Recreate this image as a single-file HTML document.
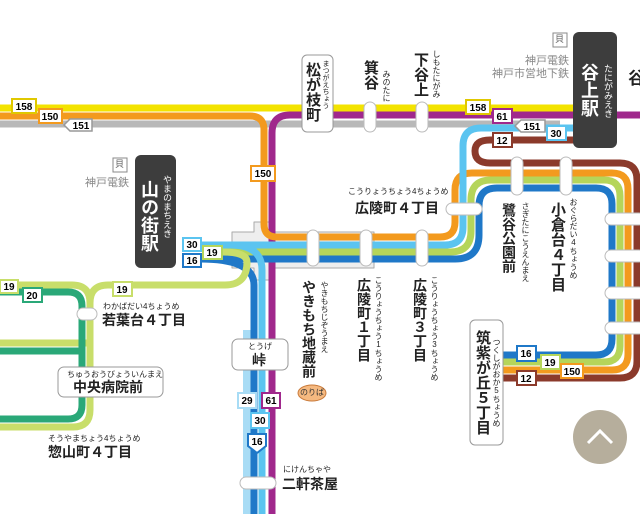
<!DOCTYPE html>
<html><head><meta charset="utf-8"><style>
html,body{margin:0;padding:0;background:#fff;}
#w{position:relative;width:640px;height:514px;overflow:hidden;font-family:"Liberation Sans","Noto Sans CJK JP",sans-serif;color:#222;}
svg{position:absolute;left:0;top:0;}
.t{position:absolute;white-space:nowrap;line-height:1;}
.v{writing-mode:vertical-rl;text-orientation:upright;}
.big{font-size:15px;font-weight:bold;}
.fu{font-size:8px;}
.g{color:#888;font-size:11px;}
</style></head><body><div id="w">
<svg width="640" height="514" viewBox="0 0 640 514">
<g fill="none" stroke-width="7" stroke-linejoin="round">
<path d="M232,232 h22 v-10 h20 v10 h100 v36 h-100 v12 h-20 v-12 h-22 z" fill="#eeeeee" stroke="#aaa" stroke-width="1"/>
<path d="M0,108 H580" stroke="#f3e300"/>
<path d="M0,124 H560" stroke="#b8b8b8"/>
<path d="M640,115 H290 Q272,115 272,133 V514" stroke="#a0288c"/>
<path d="M0,116 H250 Q264,116 264,130 V224 Q264,237 277,237 H440 Q455,237 455,222 V190 Q455,173 472,173 H612 Q628,173 628,189 V354 Q628,370 612,370 H503" stroke="#f39a1e"/>
<path d="M575,140 H490 Q475,140 475,151 Q475,163 490,163 H620 Q637,163 637,180 V361 Q637,378 620,378 H503" stroke="#8b3a2b"/>
<path d="M185,245 H445 Q463,245 463,227 V146 Q463,128 481,128 H575" stroke="#5bc4f0"/>
<path d="M205,252 H450 Q471,252 471,231 V200 Q471,180 491,180 H604 Q620,180 620,196 V346 Q620,362 604,362 H503" stroke="#b5d55a"/>
<path d="M185,259 H455 Q479,259 479,235 V206 Q479,188 497,188 H596 Q612,188 612,204 V339 Q612,355 596,355 H503" stroke="#1f78c8"/>
<path d="M230,245 Q262,245 262,270 V514" stroke="#5bc4f0"/>
<path d="M247,330 V514" stroke="#a8dcf5" stroke-width="8"/>
<path d="M200,259 Q254,259 254,285 V514" stroke="#1f78c8"/>
<path d="M222,252 Q247,252 247,262 Q247,285 225,285 H108 Q90,285 90,303 V410 Q90,427 73,427 H0" stroke="#c8de6a"/>
<path d="M0,285 H72 Q90,285 90,303" stroke="#c8de6a"/>
<path d="M0,343 H90" stroke="#c8de6a"/>
<path d="M0,292 H68 Q82,292 82,306 V405 Q82,419 68,419 H0" stroke="#2aa878"/>
<path d="M0,351 H82" stroke="#2aa878"/>
</g>
<g fill="#fff" stroke="#bbb" stroke-width="1">
<rect x="364" y="102" width="12" height="30" rx="6"/>
<rect x="416" y="102" width="12" height="30" rx="6"/>
<rect x="307" y="230" width="12" height="36" rx="6"/>
<rect x="360" y="230" width="12" height="36" rx="6"/>
<rect x="416" y="230" width="12" height="36" rx="6"/>
<rect x="511" y="157" width="12" height="38" rx="6"/>
<rect x="560" y="157" width="12" height="38" rx="6"/>
<rect x="446" y="203" width="36" height="12" rx="6"/>
<rect x="605" y="213" width="40" height="12" rx="6"/>
<rect x="605" y="250" width="40" height="12" rx="6"/>
<rect x="605" y="287" width="40" height="12" rx="6"/>
<rect x="605" y="322" width="40" height="12" rx="6"/>
<rect x="77" y="308" width="20" height="12" rx="6"/>
<rect x="240" y="477" width="36" height="12" rx="6"/>
</g>
<g font-size="10" font-weight="bold" text-anchor="middle" font-family="Liberation Sans,sans-serif">
<rect x="12" y="99" width="24" height="14" fill="#fff" stroke="#e0c800" stroke-width="2"/><text x="24" y="110">158</text>
<rect x="39" y="109" width="23" height="14" fill="#fff" stroke="#f39a1e" stroke-width="2"/><text x="50" y="120">150</text>
<path d="M64,125 L70,119 H92 V131 H70 Z" fill="#fff" stroke="#999" stroke-width="1.5"/><text x="81" y="129">151</text>
<rect x="251" y="166" width="24" height="15" fill="#fff" stroke="#f39a1e" stroke-width="2"/><text x="263" y="177">150</text>
<rect x="466" y="100" width="24" height="14" fill="#fff" stroke="#e0c800" stroke-width="2"/><text x="478" y="111">158</text>
<rect x="493" y="109" width="19" height="14" fill="#fff" stroke="#a0288c" stroke-width="2"/><text x="502" y="120">61</text>
<path d="M515,126 L521,120 H545 V132 H521 Z" fill="#fff" stroke="#999" stroke-width="1.5"/><text x="532" y="130">151</text>
<rect x="547" y="126" width="19" height="14" fill="#fff" stroke="#5bc4f0" stroke-width="2"/><text x="556" y="137">30</text>
<rect x="493" y="133" width="19" height="14" fill="#fff" stroke="#8b3a2b" stroke-width="2"/><text x="502" y="144">12</text>
<rect x="183" y="238" width="18" height="13" fill="#fff" stroke="#5bc4f0" stroke-width="2"/><text x="192" y="248">30</text>
<rect x="183" y="254" width="18" height="13" fill="#fff" stroke="#1f78c8" stroke-width="2"/><text x="192" y="264">16</text>
<rect x="203" y="246" width="19" height="13" fill="#fff" stroke="#b5d55a" stroke-width="2"/><text x="212" y="256">19</text>
<rect x="0" y="280" width="18" height="13" fill="#fff" stroke="#c8de6a" stroke-width="2"/><text x="9" y="290">19</text>
<rect x="23" y="288" width="19" height="14" fill="#fff" stroke="#2aa878" stroke-width="2"/><text x="32" y="299">20</text>
<rect x="113" y="282" width="19" height="14" fill="#fff" stroke="#c8de6a" stroke-width="2"/><text x="122" y="293">19</text>
<rect x="238" y="393" width="18" height="15" fill="#fff" stroke="#a8dcf5" stroke-width="2"/><text x="247" y="404">29</text>
<rect x="262" y="393" width="18" height="15" fill="#fff" stroke="#a0288c" stroke-width="2"/><text x="271" y="404">61</text>
<rect x="251" y="413" width="18" height="15" fill="#fff" stroke="#5bc4f0" stroke-width="2"/><text x="260" y="424">30</text>
<path d="M248,434 H266 V446 L257,453 L248,446 Z" fill="#fff" stroke="#1f78c8" stroke-width="2"/><text x="257" y="445">16</text>
<rect x="517" y="346" width="19" height="15" fill="#fff" stroke="#1f78c8" stroke-width="2"/><text x="526" y="357">16</text>
<rect x="541" y="355" width="19" height="14" fill="#fff" stroke="#b5d55a" stroke-width="2"/><text x="550" y="366">19</text>
<rect x="561" y="364" width="22" height="14" fill="#fff" stroke="#f39a1e" stroke-width="2"/><text x="572" y="375">150</text>
<rect x="517" y="371" width="19" height="14" fill="#fff" stroke="#8b3a2b" stroke-width="2"/><text x="526" y="382">12</text>
</g>
<rect x="302" y="55" width="31" height="77" rx="5" fill="#fff" stroke="#999"/>
<rect x="573" y="32" width="44" height="116" rx="6" fill="#3d3d3d"/>
<rect x="135" y="155" width="41" height="113" rx="6" fill="#3d3d3d"/>
<rect x="470" y="320" width="33" height="125" rx="5" fill="#fff" stroke="#999"/>
<rect x="58" y="367" width="105" height="30" rx="6" fill="#fff" stroke="#999"/>
<rect x="232" y="339" width="56" height="31" rx="6" fill="#fff" stroke="#999"/>
<ellipse cx="312" cy="393" rx="14" ry="8" fill="#f5b980" stroke="#c97a3a"/>
<rect x="553" y="33" width="14" height="14" fill="#fff" stroke="#888"/>
<rect x="113" y="158" width="14" height="14" fill="#fff" stroke="#888"/>
<circle cx="600" cy="437" r="27" fill="#b6ae9c"/>
<path d="M588,443 L600,431 L612,443" fill="none" stroke="#fff" stroke-width="3"/>
</svg>
<div class="t" style="left:555px;top:35px;font-size:9px;color:#666">貝</div>
<div class="t" style="left:115px;top:160px;font-size:9px;color:#666">貝</div>
<div class="t big v" style="left:305px;top:62px;font-size:15px">松が枝町</div>
<div class="t fu v" style="left:322px;top:60px;font-size:7px">まつがえちょう</div>
<div class="t big v" style="left:363px;top:60px">箕谷</div>
<div class="t fu v" style="left:382px;top:70px">みのたに</div>
<div class="t big v" style="left:413px;top:52px">下谷上</div>
<div class="t fu v" style="left:432px;top:50px">しもたにがみ</div>
<div class="t g" style="left:525px;top:56px">神戸電鉄</div>
<div class="t g" style="left:492px;top:69px">神戸市営地下鉄</div>
<div class="t big v" style="left:580px;top:63px;color:#fff;font-size:18px">谷上駅</div>
<div class="t fu v" style="left:603px;top:64px;color:#fff;font-size:9px">たにがみえき</div>
<div class="t big" style="left:628px;top:70px;font-size:17px">谷</div>
<div class="t g" style="left:85px;top:178px">神戸電鉄</div>
<div class="t big v" style="left:140px;top:180px;color:#fff;font-size:18px">山の街駅</div>
<div class="t fu v" style="left:162px;top:175px;color:#fff;font-size:9px">やまのまちえき</div>
<div class="t fu" style="left:348px;top:188px">こうりょうちょう4ちょうめ</div>
<div class="t big" style="left:355px;top:201px;font-size:14px">広陵町４丁目</div>
<div class="t big v" style="left:502px;top:203px;font-size:14px">鷺谷公園前</div>
<div class="t fu v" style="left:521px;top:202px">さぎたにこうえんまえ</div>
<div class="t big v" style="left:550px;top:202px;font-size:15px">小倉台４丁目</div>
<div class="t fu v" style="left:569px;top:198px">おぐらだい4ちょうめ</div>
<div class="t big v" style="left:302px;top:280px;font-size:14px">やきもち地蔵前</div>
<div class="t fu v" style="left:320px;top:281px">やきもちじぞうまえ</div>
<div class="t big v" style="left:357px;top:278px;font-size:14px">広陵町１丁目</div>
<div class="t fu v" style="left:374px;top:276px">こうりょうちょう1ちょうめ</div>
<div class="t big v" style="left:413px;top:278px;font-size:14px">広陵町３丁目</div>
<div class="t fu v" style="left:430px;top:276px">こうりょうちょう3ちょうめ</div>
<div class="t big v" style="left:475px;top:330px;font-size:15px">筑紫が丘５丁目</div>
<div class="t fu v" style="left:492px;top:338px">つくしがおか5ちょうめ</div>
<div class="t fu" style="left:103px;top:303px">わかばだい4ちょうめ</div>
<div class="t big" style="left:102px;top:313px;font-size:14px">若葉台４丁目</div>
<div class="t fu" style="left:67px;top:371px">ちゅうおうびょういんまえ</div>
<div class="t big" style="left:73px;top:380px;font-size:14px">中央病院前</div>
<div class="t fu" style="left:48px;top:435px">そうやまちょう4ちょうめ</div>
<div class="t big" style="left:48px;top:445px;font-size:14px">惣山町４丁目</div>
<div class="t fu" style="left:248px;top:343px">とうげ</div>
<div class="t big" style="left:252px;top:353px;font-size:14px">峠</div>
<div class="t fu" style="left:300px;top:389px;font-size:8px;color:#333">のりば</div>
<div class="t fu" style="left:283px;top:466px">にけんちゃや</div>
<div class="t big" style="left:282px;top:477px;font-size:14px">二軒茶屋</div>
</div></body></html>
